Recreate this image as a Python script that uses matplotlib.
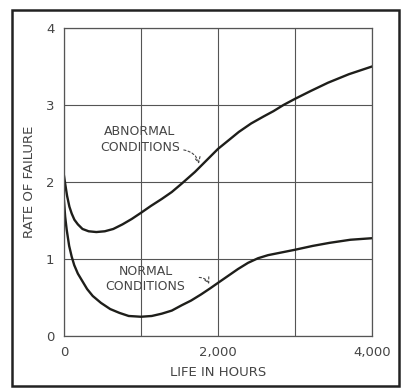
import numpy as np
import matplotlib
matplotlib.use("Agg")
import matplotlib.pyplot as plt
from matplotlib.patches import Rectangle

# values
abnormal_hours = [0, 15, 40, 70, 100, 135, 180, 240, 320, 420, 530, 640, 760, 880,
                  1000, 1130, 1270, 1400, 1530, 1700, 1850, 2000, 2160, 2270, 2430,
                  2590, 2720, 2850, 3000, 3200, 3430, 3700, 4000]
abnormal_rate = [2.08, 1.98, 1.82, 1.68, 1.59, 1.51, 1.45, 1.39, 1.36, 1.35, 1.36, 1.39, 1.45, 1.52,
                 1.60, 1.69, 1.78, 1.87, 1.98, 2.13, 2.28, 2.43, 2.56, 2.65, 2.76,
                 2.85, 2.92, 3.00, 3.08, 3.18, 3.29, 3.40, 3.50]

normal_hours = [0, 15, 35, 67, 100, 133, 180, 240, 300, 373, 480, 600, 720, 840,
                1000, 1140, 1270, 1400, 1530, 1650, 1780, 1900, 2000, 2130, 2260,
                2390, 2520, 2650, 2800, 3000, 3230, 3450, 3720, 4000]
normal_rate = [1.75, 1.55, 1.38, 1.17, 1.03, 0.92, 0.81, 0.71, 0.61, 0.52, 0.43, 0.35, 0.30, 0.26,
               0.25, 0.26, 0.29, 0.33, 0.40, 0.46, 0.54, 0.62, 0.69, 0.78, 0.87,
               0.95, 1.01, 1.05, 1.08, 1.12, 1.17, 1.21, 1.25, 1.27]

x_ticks = [0, 1000, 2000, 3000, 4000]
x_labels = ["0", "", "2,000", "", "4,000"]
y_ticks = [0, 1, 2, 3, 4]
y_labels = ["0", "1", "2", "3", "4"]

ink = "#1e1e1a"
txt = "#454545"
plt.rcParams['font.family'] = ['DejaVu Sans']

fig = plt.figure(figsize=(4.02, 3.89), dpi=100)
fig.patch.set_facecolor("white")
ax = fig.add_axes([64/402, 1-336/389, 308/402, 308/389])

ax.plot(abnormal_hours, abnormal_rate, color=ink, lw=1.7, solid_joinstyle="round")
ax.plot(normal_hours, normal_rate, color=ink, lw=1.7, solid_joinstyle="round")

ax.set_xlim(0, 4000)
ax.set_ylim(0, 4)
ax.set_xticks(x_ticks)
ax.set_xticklabels(x_labels)
ax.set_yticks(y_ticks)
ax.set_yticklabels(y_labels)
ax.tick_params(length=0, labelsize=9.5, labelcolor=txt)
ax.tick_params(axis="x", pad=7)
ax.tick_params(axis="y", pad=7)
ax.grid(True, color="#555555", lw=0.8)
for s in ax.spines.values():
    s.set_color("#555555")
    s.set_linewidth(0.9)

ax.set_xlabel("LIFE IN HOURS", fontsize=9.5, color=txt, labelpad=5)
ax.set_ylabel("RATE OF FAILURE", fontsize=9.5, color=txt, labelpad=7)

ax.text(985, 2.55, "ABNORMAL\nCONDITIONS", ha="center", va="center",
        fontsize=9, color=txt, linespacing=1.25)
ax.annotate("", xy=(1760, 2.20), xytext=(1520, 2.42),
            arrowprops=dict(arrowstyle="->", color=txt, lw=0.8, ls=(0, (2, 2)),
                            connectionstyle="arc3,rad=-0.4"))

ax.text(1060, 0.74, "NORMAL\nCONDITIONS", ha="center", va="center",
        fontsize=9, color=txt, linespacing=1.25)
ax.annotate("", xy=(1900, 0.64), xytext=(1720, 0.76),
            arrowprops=dict(arrowstyle="->", color=txt, lw=0.8, ls=(0, (2, 2)),
                            connectionstyle="arc3,rad=-0.4"))

# outer frame of the scanned figure
fig.patches.append(Rectangle((12/402, 1-386/389), 387/402, 376/389,
                             transform=fig.transFigure, fill=False,
                             edgecolor="#222222", lw=1.8))

fig.savefig("out.png", dpi=100, facecolor="white")
